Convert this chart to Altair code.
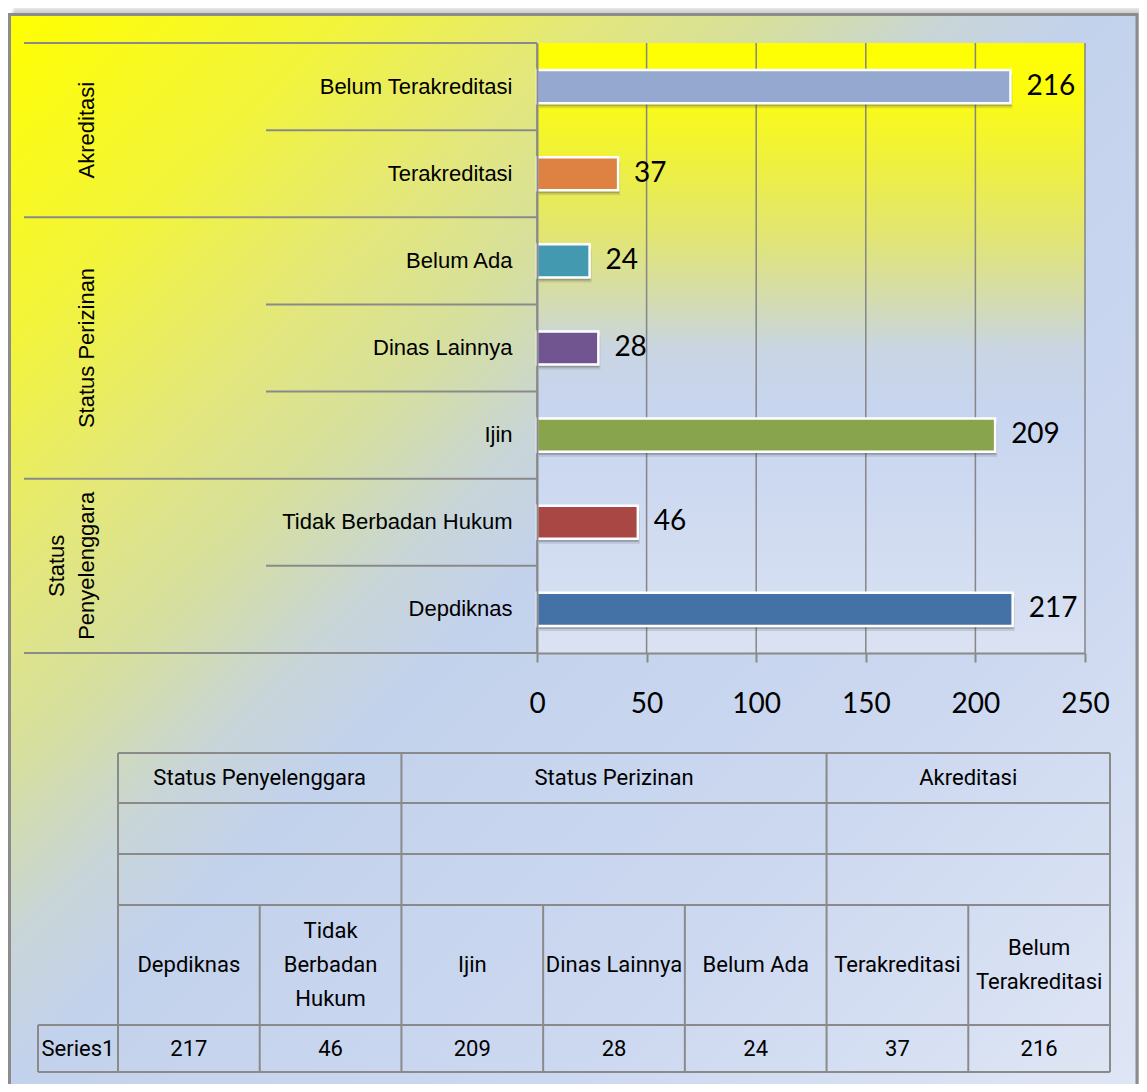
import altair as alt
import pandas as pd

# ---------------- data ----------------
categories = ["Depdiknas", "Tidak Berbadan Hukum", "Ijin", "Dinas Lainnya",
              "Belum Ada", "Terakreditasi", "Belum Terakreditasi"]
values = [217, 46, 209, 28, 24, 37, 216]
groups = ["Status Penyelenggara", "Status Penyelenggara", "Status Perizinan",
          "Status Perizinan", "Status Perizinan", "Akreditasi", "Akreditasi"]
bar_colors = ["#4472A6", "#A94744", "#88A44D", "#715591", "#4299B0", "#DD8242", "#95A9D0"]
table_labels = ["Depdiknas", "Tidak\nBerbadan\nHukum", "Ijin", "Dinas Lainnya",
                "Belum Ada", "Terakreditasi", "Belum\nTerakreditasi"]
group_names = ["Status Penyelenggara", "Status Perizinan", "Akreditasi"]
group_axis_labels = ["Status\nPenyelenggara", "Status Perizinan", "Akreditasi"]
series_name = ["Series1"]
x_ticks = [0, 50, 100, 150, 200, 250]

# ---------------- styles / layout ----------------
W, H = 548, 610
GREY = "#8A8A8A"
NUM_FONT = "Lato"
LBL_FONT = "Liberation Sans"
TBL_FONT = "Roboto"
TBL_SIZE = 22
GLH = 30      # line height of rotated group labels
TLH = 34      # line height of table column labels

n = len(categories)
plot_order = categories[::-1]
group_of = dict(zip(categories, groups))

df = pd.DataFrame({"cat": categories, "value": values, "group": groups,
                   "idx": list(range(n)), "tlabel": table_labels})
top_cats = [c for i, c in enumerate(plot_order)
            if i == 0 or group_of[plot_order[i - 1]] != group_of[c]]
df["top"] = df["cat"].isin(top_cats)
df["gstart"] = [i == 0 or groups[i - 1] != groups[i] for i in range(n)]
df["last"] = [i == n - 1 for i in range(n)]

rows = []
for g, lab in zip(group_names, group_axis_labels):
    members = [c for c in plot_order if group_of[c] == g]
    mid = len(members) / 2
    k = int(mid)
    rows.append({"group": g, "text": lab, "anchor": members[k], "bp": mid - k,
                 "nl": lab.count("\n") + 1})
glab = pd.DataFrame(rows)

one = pd.DataFrame({"k": [0]})

yscale = alt.Scale(domain=plot_order, paddingInner=0, paddingOuter=0)
xscale = alt.Scale(domain=[x_ticks[0], x_ticks[-1]], nice=False)
tscale = alt.Scale(domain=[0, n], range=[-419, 573])

x_axis = alt.Axis(values=x_ticks, grid=False, domainColor=GREY, domainWidth=2,
                  tickColor=GREY, tickWidth=2, tickSize=9, labelFont=NUM_FONT,
                  labelFontSize=28, labelColor="black", labelPadding=28,
                  labelFlush=False, labelOverlap=False, title=None, zindex=1)
y_axis = alt.Axis(title=None, ticks=False, tickSize=0, domainColor=GREY, domainWidth=2,
                  labelFont=LBL_FONT, labelFontSize=22, labelColor="black",
                  labelPadding=25, labelLimit=400, grid=False, zindex=1)

frame_grad = alt.LinearGradient(
    gradient="linear", x1=0, y1=0, x2=1, y2=1,
    stops=[alt.GradientStop(offset=o, color=c) for o, c in [
        (0, "#FFFF00"), (0.15, "#F2F43C"), (0.26, "#E3E77C"), (0.34, "#D6DF9E"),
        (0.42, "#C8D5D8"), (0.48, "#C3D2EC"), (0.72, "#CCD8F0"), (1, "#E0E7F5")]])
plot_grad = alt.LinearGradient(
    gradient="linear", x1=0, y1=0, x2=0, y2=1,
    stops=[alt.GradientStop(offset=o, color=c) for o, c in [
        (0, "#FFFF00"), (0.08, "#FCFC10"), (0.2, "#EEF040"), (0.32, "#E1E575"),
        (0.42, "#D4DCAE"), (0.5, "#C9D5E2"), (0.6, "#C7D5EF"), (1, "#DAE2F3")]])

FL, FT, FR, FB = -527.5, -28.5, 600, 1080

main_layers = []
# frame shadow
for k in range(1, 6):
    main_layers.append(
        alt.Chart(one).mark_rect(fill="black", opacity=0.045).encode(
            x=alt.value(FL + k), x2=alt.value(FR + 1.2 * k),
            y=alt.value(FT - 2 * k), y2=alt.value(FB)))
# frame with diagonal gradient
main_layers.append(
    alt.Chart(one).mark_rect(fill=frame_grad, stroke="#8C8C8C", strokeWidth=3).encode(
        x=alt.value(FL), x2=alt.value(FR), y=alt.value(FT), y2=alt.value(FB)))
# plot area gradient
main_layers.append(
    alt.Chart(one).mark_rect(fill=plot_grad).encode(
        x=alt.value(0), x2=alt.value(W), y=alt.value(0), y2=alt.value(H)))
# gridlines
main_layers.append(
    alt.Chart(pd.DataFrame({"tick": x_ticks})).mark_rule(color="#868686", strokeWidth=1.5).encode(
        x=alt.X("tick:Q", scale=xscale, axis=x_axis)))
# category separators in label area
main_layers.append(
    alt.Chart(df).transform_filter("datum.top").mark_rule(color=GREY, strokeWidth=2).encode(
        y=alt.Y("cat:N", scale=yscale, axis=y_axis, bandPosition=0),
        x=alt.value(-513), x2=alt.value(0)))
main_layers.append(
    alt.Chart(df).transform_filter("!datum.top").mark_rule(color=GREY, strokeWidth=2).encode(
        y=alt.Y("cat:N", scale=yscale, axis=y_axis, bandPosition=0),
        x=alt.value(-271), x2=alt.value(0)))
main_layers.append(
    alt.Chart(df).transform_filter(alt.datum.cat == plot_order[-1]).mark_rule(color=GREY, strokeWidth=2).encode(
        y=alt.Y("cat:N", scale=yscale, axis=y_axis, bandPosition=1),
        x=alt.value(-513), x2=alt.value(0)))
# group labels (rotated); last line of each label sits on the same column
for _, r in glab.iterrows():
    main_layers.append(
        alt.Chart(glab[glab["group"] == r["group"]]).mark_text(
            angle=270, align="center", baseline="bottom", font=LBL_FONT, fontSize=22,
            lineBreak="\n", lineHeight=GLH, color="black").encode(
            y=alt.Y("anchor:N", scale=yscale, axis=y_axis, bandPosition=float(r["bp"])),
            x=alt.value(-438 - (r["nl"] - 1) * GLH), text="text:N"))
# bar shadows
for dx, dy, op in [(1, 3, 0.30), (2, 5, 0.15)]:
    main_layers.append(
        alt.Chart(df).mark_bar(height={"band": 0.38}, color="#404040", opacity=op,
                               xOffset=dx, yOffset=dy).encode(
            y=alt.Y("cat:N", scale=yscale, axis=y_axis),
            x=alt.X("value:Q", scale=xscale, axis=x_axis)))
# bars
main_layers.append(
    alt.Chart(df).mark_bar(height={"band": 0.38}, stroke="white", strokeWidth=2.5).encode(
        y=alt.Y("cat:N", scale=yscale, axis=y_axis),
        x=alt.X("value:Q", scale=xscale, axis=x_axis),
        color=alt.Color("cat:N", scale=alt.Scale(domain=categories, range=bar_colors), legend=None)))
# value labels
main_layers.append(
    alt.Chart(df).mark_text(align="left", baseline="middle", dx=16, font=NUM_FONT,
                            fontSize=28, color="black").encode(
        y=alt.Y("cat:N", scale=yscale, axis=y_axis),
        x=alt.X("value:Q", scale=xscale, axis=x_axis),
        text="value:Q"))

main = alt.layer(*main_layers)

# ---------------- data table ----------------
table_layers = []
for yy in [710, 760, 811, 862]:
    table_layers.append(alt.Chart(one).mark_rule(color=GREY, strokeWidth=2).encode(
        x=alt.value(-419), x2=alt.value(573), y=alt.value(yy)))
for yy in [982, 1029]:
    table_layers.append(alt.Chart(one).mark_rule(color=GREY, strokeWidth=2).encode(
        x=alt.value(-499), x2=alt.value(573), y=alt.value(yy)))
table_layers.append(alt.Chart(one).mark_rule(color=GREY, strokeWidth=2).encode(
    x=alt.value(-499), y=alt.value(982), y2=alt.value(1029)))
table_layers.append(alt.Chart(df).transform_filter("datum.gstart").mark_rule(color=GREY, strokeWidth=2).encode(
    x=alt.X("idx:Q", scale=tscale, axis=None), y=alt.value(710), y2=alt.value(1029)))
table_layers.append(alt.Chart(df).transform_filter("!datum.gstart").mark_rule(color=GREY, strokeWidth=2).encode(
    x=alt.X("idx:Q", scale=tscale, axis=None), y=alt.value(862), y2=alt.value(1029)))
table_layers.append(alt.Chart(df).transform_filter("datum.last").transform_calculate(
    e="datum.idx + 1").mark_rule(color=GREY, strokeWidth=2).encode(
    x=alt.X("e:Q", scale=tscale, axis=None), y=alt.value(710), y2=alt.value(1029)))
# group headers
table_layers.append(alt.Chart(df).transform_aggregate(
    lo="min(idx)", hi="max(idx)", groupby=["group"]).transform_calculate(
    tx="(datum.lo + datum.hi + 1) / 2").mark_text(
    font=TBL_FONT, fontSize=TBL_SIZE, baseline="middle", color="black").encode(
    x=alt.X("tx:Q", scale=tscale, axis=None), y=alt.value(735), text="group:N"))
# column labels, block centred vertically in the cell
max_lines = max(t.count("\n") + 1 for t in table_labels)
for nl in range(1, max_lines + 1):
    table_layers.append(alt.Chart(df).transform_calculate(
        tx="datum.idx + 0.5",
        nl="length(split(datum.tlabel, '\\n'))").transform_filter(
        f"datum.nl == {nl}").mark_text(
        font=TBL_FONT, fontSize=TBL_SIZE, baseline="middle", lineBreak="\n", lineHeight=TLH,
        color="black").encode(
        x=alt.X("tx:Q", scale=tscale, axis=None),
        y=alt.value(922 - (nl - 1) * TLH / 2), text="tlabel:N"))
# values
table_layers.append(alt.Chart(df).transform_calculate(tx="datum.idx + 0.5").mark_text(
    font=TBL_FONT, fontSize=TBL_SIZE, baseline="middle", color="black").encode(
    x=alt.X("tx:Q", scale=tscale, axis=None), y=alt.value(1005.5), text="value:Q"))
# series name
table_layers.append(alt.Chart(pd.DataFrame({"s": series_name})).mark_text(
    font=TBL_FONT, fontSize=TBL_SIZE, baseline="middle", color="black").encode(
    x=alt.value(-459), y=alt.value(1005.5), text="s:N"))

table = alt.layer(*table_layers)

chart = alt.layer(main, table).resolve_scale(x="independent").properties(
    width=W, height=H,
    autosize=alt.AutoSizeParams(type="none"),
    padding={"left": 529, "top": 35, "right": 54, "bottom": 431},
).configure_view(stroke=None)

chart.save("out.html", embed_options={"renderer": "svg", "actions": False})
